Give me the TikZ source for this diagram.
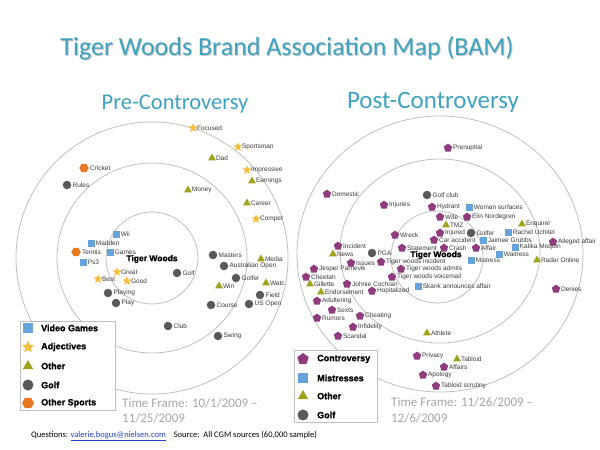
\documentclass[tikz,border=0pt]{standalone}
\usepackage{fontspec}
\setmainfont{Carlito}
\newfontfamily\arialfont{Liberation Sans}
\newfontfamily\heavyfont[FakeBold=1.2]{Liberation Sans Bold}
\usetikzlibrary{shapes.geometric}
\definecolor{ringgray}{HTML}{BFBFBF}
\definecolor{golfgray}{HTML}{595959}
\definecolor{sqblue}{HTML}{66A3DA}
\definecolor{stargold}{HTML}{F7BE3A}
\definecolor{triolive}{HTML}{A0A31E}
\definecolor{hexorange}{HTML}{E87722}
\definecolor{pentpurple}{HTML}{8F3B7D}
\definecolor{titleteal}{HTML}{3FA3C0}
\definecolor{tfgray}{HTML}{A6A6A6}
\definecolor{lblgray}{HTML}{3A3A3A}
\definecolor{linkblue}{HTML}{1F3FD0}
\tikzset{
  % anelli
  ring/.style={draw=ringgray, line width=0.8pt},
  % marcatori
  basemk/.style={inner sep=0pt, outer sep=0pt, draw=none},
  golfdot/.style={basemk, circle, fill=golfgray, minimum size=8.5pt},
  gamebox/.style={basemk, rectangle, fill=sqblue, minimum size=7pt},
  adjstar/.style={basemk, star, star points=5, star point ratio=2.3, fill=stargold, minimum size=9.5pt},
  othertri/.style={basemk, regular polygon, regular polygon sides=3, fill=triolive, minimum size=9pt},
  sporthex/.style={basemk, regular polygon, regular polygon sides=6, fill=hexorange, minimum size=9.5pt},
  contrpent/.style={basemk, regular polygon, regular polygon sides=5, fill=pentpurple, minimum size=8.8pt},
  % testi
  lbl/.style={font=\arialfont\fontsize{6.5}{7}\selectfont, text=lblgray, inner sep=1.2pt},
  center lbl/.style={font=\heavyfont\fontsize{8.5}{9}\selectfont, inner sep=0pt},
  legbox/.style={draw=ringgray, fill=white, line width=0.8pt, inner sep=0pt},
  legtext/.style={font=\heavyfont\fontsize{9}{10}\selectfont, anchor=west, inner sep=0pt},
  heading/.style={text=titleteal, anchor=base, inner sep=0pt},
  timeframe/.style={text=tfgray, font=\fontsize{13}{15}\selectfont, anchor=base west, inner sep=0pt}
}
\begin{document}
\begin{tikzpicture}[x=1pt,y=-1pt]
  \fill[white] (0,0) rectangle (600,450);
  \useasboundingbox (0,0) rectangle (600,450);
  % titoli
  \node[heading, text=gray!45, font=\fontsize{26}{30}\selectfont] (titleshadow) at (288,56) {Tiger Woods Brand Association Map (BAM)};
  \node[heading, font=\fontsize{26}{30}\selectfont] (title) at (287,55) {Tiger Woods Brand Association Map (BAM)};
  \node[heading, font=\fontsize{22.5}{26}\selectfont] (pretitle) at (175,109) {Pre-Controversy};
  \node[heading, font=\fontsize{25}{28}\selectfont] (posttitle) at (433,108) {Post-Controversy};
  % anelli
  \draw[ring] (152,258) circle[radius=46pt];
  \draw[ring] (152,258) circle[radius=95pt];
  \draw[ring] (152,258) circle[radius=136pt];
  \draw[ring] (437,257) circle[radius=46pt];
  \draw[ring] (440,251) ellipse[x radius=100pt, y radius=92pt];
  \draw[ring] (440,254) ellipse[x radius=143pt, y radius=138pt];
  % legende
  \node[legbox, minimum width=95pt, minimum height=89pt, anchor=north west] (legpre) at (20,321) {};
  \node[legbox, minimum width=83pt, minimum height=72pt, anchor=north west] (legpost) at (294,350) {};
  \node[gamebox, minimum size=10pt] (lg1) at (28,328) {};
  \node[adjstar, minimum size=13pt] (lg2) at (28,347) {};
  \node[othertri, minimum size=12pt] (lg3) at (28,366) {};
  \node[golfdot, minimum size=11pt] (lg4) at (28,385) {};
  \node[sporthex, minimum size=12pt] (lg5) at (28,403) {};
  \node[legtext] (lt1) at (41,328) {Video Games};
  \node[legtext] (lt2) at (41,347) {Adjectives};
  \node[legtext] (lt3) at (41,366) {Other};
  \node[legtext] (lt4) at (41,385) {Golf};
  \node[legtext] (lt5) at (41,403) {Other Sports};
  \node[contrpent, minimum size=12pt] (rg1) at (303,359) {};
  \node[gamebox, minimum size=10pt] (rg2) at (303,378) {};
  \node[othertri, minimum size=12pt] (rg3) at (303,396) {};
  \node[golfdot, minimum size=11pt] (rg4) at (303,415) {};
  \node[legtext] (rt1) at (317,359) {Controversy};
  \node[legtext] (rt2) at (317,378) {Mistresses};
  \node[legtext] (rt3) at (317,396) {Other};
  \node[legtext] (rt4) at (317,415) {Golf};
  % pre-controversy
  \node[center lbl] (tigerpre) at (152,259) {Tiger Woods};
  \node[adjstar, label={[lbl]right:Focused}] (focused) at (193,128) {};
  \node[adjstar, label={[lbl]right:Sportsman}] (sportsman) at (238,147) {};
  \node[othertri, label={[lbl]right:Dad}] (dad) at (212,158) {};
  \node[adjstar, label={[lbl]right:Impressive}] (impressive) at (247,170) {};
  \node[othertri, label={[lbl]right:Earnings}] (earnings) at (252,181) {};
  \node[sporthex, label={[lbl]right:Cricket}] (cricket) at (84,168) {};
  \node[golfdot, label={[lbl]right:Rules}] (rules) at (67,185) {};
  \node[othertri, label={[lbl]right:Money}] (money) at (188,190) {};
  \node[othertri, label={[lbl]right:Career}] (career) at (247,203) {};
  \node[adjstar, label={[lbl]right:Compet}] (compet) at (256,219) {};
  \node[gamebox, label={[lbl]right:Wii}] (wii) at (116,234) {};
  \node[gamebox, label={[lbl]right:Madden}] (madden) at (91,243) {};
  \node[sporthex, label={[lbl]right:Tennis}] (tennis) at (76,252) {};
  \node[gamebox, label={[lbl]right:Games}] (games) at (110,252) {};
  \node[gamebox, label={[lbl]right:Ps3}] (psthree) at (83,262) {};
  \node[adjstar, label={[lbl]right:Great}] (great) at (117,272) {};
  \node[adjstar, label={[lbl]right:Best}] (best) at (98,279) {};
  \node[adjstar, label={[lbl]right:Good}] (good) at (127,281) {};
  \node[golfdot, label={[lbl]right:Golf}] (golfpre) at (177,273) {};
  \node[golfdot, label={[lbl]right:Masters}] (masters) at (213,255) {};
  \node[golfdot, label={[lbl]right:Australian Open}] (ausopen) at (224,266) {};
  \node[othertri, label={[lbl]right:Media}] (media) at (261,259) {};
  \node[golfdot, label={[lbl]right:Golfer}] (golferpre) at (236,278) {};
  \node[othertri, label={[lbl]right:Watc}] (watc) at (266,283) {};
  \node[othertri, label={[lbl]right:Win}] (win) at (219,286) {};
  \node[golfdot, label={[lbl]right:Field}] (field) at (260,295) {};
  \node[golfdot, label={[lbl]right:Playing}] (playing) at (108,293) {};
  \node[golfdot, label={[lbl]right:Play}] (play) at (116,303) {};
  \node[golfdot, label={[lbl]right:Course}] (course) at (211,305) {};
  \node[golfdot, label={[lbl]right:US Open}] (usopen) at (249,304) {};
  \node[golfdot, label={[lbl]right:Club}] (club) at (168,326) {};
  \node[golfdot, label={[lbl]right:Swing}] (swing) at (218,336) {};
  % post-controversy
  \node[center lbl] (tigerpost) at (436,255) {Tiger Woods};
  \node[contrpent, label={[lbl]right:Prenuptial}] (prenuptial) at (448,148) {};
  \node[contrpent, label={[lbl]right:Domestic}] (domestic) at (327,194) {};
  \node[golfdot, label={[lbl]right:Golf club}] (golfclub) at (427,195) {};
  \node[contrpent, label={[lbl]right:Injuries}] (injuries) at (384,205) {};
  \node[contrpent, label={[lbl]right:Hydrant}] (hydrant) at (432,207) {};
  \node[gamebox, label={[lbl]right:Woman surfaces}] (womansurf) at (469,207) {};
  \node[contrpent, label={[lbl]right:Wife}] (wife) at (440,217) {};
  \node[contrpent, label={[lbl]right:Elin Nordegren}] (elin) at (467,217) {};
  \node[othertri, label={[lbl]right:TMZ}] (tmz) at (446,225) {};
  \node[othertri, label={[lbl]right:Enquirer}] (enquirer) at (522,224) {};
  \node[contrpent, label={[lbl]right:Injured}] (injured) at (440,233) {};
  \node[golfdot, label={[lbl]right:Golfer}] (golferpost) at (471,233) {};
  \node[gamebox, label={[lbl]right:Rachel Uchitel}] (rachel) at (508,232) {};
  \node[contrpent, label={[lbl]right:Alleged affair}] (alleged) at (553,242) {};
  \node[contrpent, label={[lbl]right:Wreck}] (wreck) at (395,235) {};
  \node[contrpent, label={[lbl]right:Car accident}] (caracc) at (434,240) {};
  \node[gamebox, label={[lbl]right:Jaimee Grubbs}] (jaimee) at (483,240) {};
  \node[contrpent, label={[lbl]right:Incident}] (incident) at (338,246) {};
  \node[contrpent, label={[lbl]right:Statement}] (statement) at (402,248) {};
  \node[contrpent, label={[lbl]right:Crash}] (crash) at (444,248) {};
  \node[contrpent, label={[lbl]right:Affair}] (affair) at (476,248) {};
  \node[gamebox, label={[lbl]right:Kalika Moquin}] (kalika) at (515,247) {};
  \node[othertri, label={[lbl]right:News}] (news) at (333,254) {};
  \node[golfdot, label={[lbl]right:PGA}] (pga) at (372,253) {};
  \node[gamebox, label={[lbl]right:Waitress}] (waitress) at (499,254) {};
  \node[othertri, label={[lbl]right:Radar Online}] (radar) at (537,260) {};
  \node[gamebox, label={[lbl]right:Mistress}] (mistress) at (471,260) {};
  \node[contrpent, label={[lbl]right:Issues}] (issues) at (351,263) {};
  \node[contrpent, label={[lbl]right:Tiger woods incident}] (twincident) at (381,262) {};
  \node[contrpent, label={[lbl]right:Jesper Parnevik}] (jesper) at (314,269) {};
  \node[contrpent, label={[lbl]right:Tiger woods admits}] (twadmits) at (401,269) {};
  \node[contrpent, label={[lbl]right:Cheetah}] (cheetah) at (306,277) {};
  \node[contrpent, label={[lbl]right:Tiger woods voicemail}] (twvoicemail) at (392,277) {};
  \node[othertri, label={[lbl]right:Gillette}] (gillette) at (310,284) {};
  \node[contrpent, label={[lbl]right:Johnie Cochran}] (johnie) at (347,284) {};
  \node[gamebox, label={[lbl]right:Skank announces affair}] (skank) at (418,286) {};
  \node[othertri, label={[lbl]right:Endorsement}] (endorsement) at (321,292) {};
  \node[contrpent, label={[lbl]right:Hopitalized}] (hopitalized) at (372,291) {};
  \node[contrpent, label={[lbl]right:Denies}] (denies) at (556,289) {};
  \node[contrpent, label={[lbl]right:Adultering}] (adultering) at (317,301) {};
  \node[contrpent, label={[lbl]right:Sexts}] (sexts) at (332,310) {};
  \node[contrpent, label={[lbl]right:Cheating}] (cheating) at (360,316) {};
  \node[contrpent, label={[lbl]right:Rumors}] (rumors) at (317,318) {};
  \node[contrpent, label={[lbl]right:Infidelity}] (infidelity) at (353,327) {};
  \node[contrpent, label={[lbl]right:Scandal}] (scandal) at (338,336) {};
  \node[othertri, label={[lbl]right:Athlete}] (athlete) at (427,333) {};
  \node[contrpent, label={[lbl]right:Privacy}] (privacy) at (417,356) {};
  \node[othertri, label={[lbl]right:Tabloid}] (tabloid) at (457,359) {};
  \node[contrpent, label={[lbl]right:Affairs}] (affairs) at (444,367) {};
  \node[contrpent, label={[lbl]right:Apology}] (apology) at (423,375) {};
  \node[contrpent, label={[lbl]right:Tabloid scrutiny}] (tabscrutiny) at (436,386) {};
  % periodi e fonte
  \node[timeframe] (tfpre1) at (122,407) {Time Frame: 10/1/2009 --};
  \node[timeframe] (tfpre2) at (122,422) {11/25/2009};
  \node[timeframe] (tfpost1) at (391,406) {Time Frame: 11/26/2009 --};
  \node[timeframe] (tfpost2) at (391,422) {12/6/2009};
  \node[anchor=base west, inner sep=0pt, font=\fontsize{8.5}{10}\selectfont] (footer) at (31,437)
    {Questions: {\color{linkblue}\underline{valerie.bogus@nielsen.com}}\hspace{8pt}Source:\ \ All CGM sources (60,000 sample)};
\end{tikzpicture}
\end{document}
